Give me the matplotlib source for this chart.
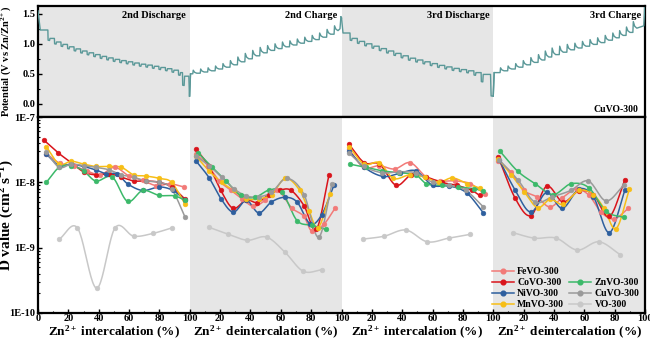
import numpy as np
import matplotlib
matplotlib.use('Agg')
import matplotlib.pyplot as plt
from matplotlib.lines import Line2D
from matplotlib.ticker import FixedLocator, FuncFormatter, MultipleLocator, LogLocator, NullFormatter

plt.rcParams['font.family'] = ['Liberation Serif', 'DejaVu Serif']
plt.rcParams['font.weight'] = 'bold'
plt.rcParams['mathtext.fontset'] = 'custom'
plt.rcParams['mathtext.rm'] = 'Liberation Serif:bold'
plt.rcParams['mathtext.it'] = 'Liberation Serif:bold'
plt.rcParams['mathtext.bf'] = 'Liberation Serif:bold'

# ---------------- GITT potential curve (CuVO-300) ----------------
# discharge segments: pulse start x (local %), pulse minimum V, relaxed V
dis2_start = [(0.0, 1.55), (1.5, 1.23)]
dis2_x = [6.5, 10.8, 15.1, 19.4, 23.7, 28.0, 32.3, 36.6, 40.9, 45.2, 49.5,
          53.8, 58.1, 62.4, 66.7, 71.0, 75.3, 79.6, 83.9, 88.2, 92.5, 95.2]
dis2_pulse = [1.06, 1.00, 0.96, 0.92, 0.885, 0.85, 0.82, 0.79, 0.76, 0.735, 0.71,
              0.69, 0.67, 0.65, 0.63, 0.615, 0.595, 0.575, 0.555, 0.53, 0.48, 0.31]
dis2_rest = [1.09, 1.03, 0.99, 0.95, 0.915, 0.88, 0.85, 0.82, 0.79, 0.765, 0.74,
             0.72, 0.70, 0.68, 0.66, 0.645, 0.625, 0.605, 0.585, 0.56, 0.52, 0.46]
dis2_end = [(99.4, 0.46), (99.8, 0.13)]

chg2_start = [(0.0, 0.13), (0.5, 0.50)]
chg2_x = [2.0, 6.9, 11.8, 16.7, 21.6, 26.5, 31.4, 36.3, 41.2, 46.1,
          51.0, 55.9, 60.8, 65.7, 70.6, 75.5, 80.4, 85.3, 90.2, 95.1]
chg2_peak = [0.56, 0.58, 0.60, 0.63, 0.67, 0.72, 0.78, 0.84, 0.89, 0.94,
             0.97, 1.00, 1.03, 1.05, 1.08, 1.11, 1.14, 1.18, 1.24, 1.30]
chg2_rest = [0.51, 0.53, 0.55, 0.58, 0.61, 0.65, 0.70, 0.75, 0.80, 0.85,
             0.89, 0.92, 0.95, 0.98, 1.01, 1.04, 1.07, 1.11, 1.16, 1.22]
chg2_end = [(99.0, 1.25), (99.6, 1.45)]

dis3_start = [(0.0, 1.43), (1.0, 1.18)]
dis3_x = [5.6, 10.4, 15.2, 20.0, 24.8, 29.6, 34.4, 39.2, 44.0, 48.8,
          53.6, 58.4, 63.2, 68.0, 72.8, 77.6, 82.4, 87.2, 92.0]
dis3_pulse = [1.06, 1.01, 0.97, 0.93, 0.89, 0.85, 0.81, 0.77, 0.73, 0.70,
              0.67, 0.64, 0.61, 0.585, 0.56, 0.54, 0.52, 0.48, 0.37]
dis3_rest = [1.09, 1.04, 1.00, 0.96, 0.92, 0.88, 0.84, 0.80, 0.76, 0.73,
             0.70, 0.67, 0.64, 0.615, 0.59, 0.57, 0.55, 0.52, 0.49]
dis3_end = [(98.2, 0.49), (98.6, 0.13), (100.0, 0.13)]

chg3_start = [(0.0, 0.13), (0.6, 0.52)]
chg3_x = [4.5, 9.5, 14.5, 19.5, 24.5, 29.5, 34.0, 38.5, 43.5, 48.5,
          53.5, 58.5, 63.5, 68.5, 73.5, 78.5, 83.0, 87.5, 92.0]
chg3_peak = [0.60, 0.63, 0.67, 0.72, 0.77, 0.82, 0.88, 0.93, 0.96, 0.99,
             1.01, 1.04, 1.07, 1.10, 1.14, 1.18, 1.22, 1.28, 1.37]
chg3_rest = [0.55, 0.58, 0.61, 0.65, 0.69, 0.73, 0.78, 0.82, 0.86, 0.90,
             0.93, 0.96, 0.99, 1.02, 1.06, 1.10, 1.14, 1.19, 1.26]
chg3_end = [(99.2, 1.30), (99.8, 1.60)]

# ---------------- Diffusion coefficients (local x %, D cm2/s) ----------------
FeVO_x = [[5.5, 14.5, 23.5, 32, 41, 50.5, 60, 69, 78, 87, 96],
          [4.3, 12, 19.5, 27, 34.5, 42, 49.7, 57.5, 67.5, 75.3, 80.3, 88.5, 95.7],
          [5, 14.5, 25, 35, 45.3, 56, 65, 75, 85, 94.5],
          [3.3, 11.4, 20, 28.6, 37.3, 45.5, 55, 63.2, 71, 79.6, 89]]
FeVO_d = [[2.75e-8, 1.95e-8, 1.78e-8, 1.5e-8, 1.3e-8, 1.7e-8, 1.25e-8, 1.07e-8, 8.9e-9, 9.5e-9, 8.5e-9],
          [2.7e-8, 1.8e-8, 1.05e-8, 7.6e-9, 5.6e-9, 4.3e-9, 5.3e-9, 7.6e-9, 4.0e-9, 3.0e-9, 1.8e-9, 2.3e-9, 4.0e-9],
          [3.2e-8, 1.7e-8, 1.8e-8, 1.6e-8, 2.0e-8, 1.2e-8, 1.05e-8, 1.05e-8, 9.5e-9, 6.6e-9],
          [2.1e-8, 1.45e-8, 7.6e-9, 6.0e-9, 4.2e-9, 5.8e-9, 7.9e-9, 6.3e-9, 3.5e-9, 2.75e-9, 4.0e-9]]

CoVO_x = [[4, 13.5, 22, 30, 38, 47, 55, 63, 71, 80, 88, 97],
          [4.3, 12.7, 20.4, 28.5, 37.3, 44.5, 52.2, 59.3, 66.5, 75.3, 83.4, 91.8],
          [5, 15, 25, 36, 46, 56, 66, 76, 86, 91],
          [3.3, 14.3, 24.7, 35.2, 46, 56.5, 66, 76.5, 86.8]]
CoVO_d = [[4.4e-8, 2.8e-8, 2.0e-8, 1.45e-8, 1.3e-8, 1.35e-8, 1.2e-8, 1.05e-8, 1.05e-8, 1.0e-8, 8.5e-9, 5.5e-9],
          [3.2e-8, 1.76e-8, 7.6e-9, 4.0e-9, 5.4e-9, 4.9e-9, 6.5e-9, 7.6e-9, 7.6e-9, 4.4e-9, 1.9e-9, 1.3e-8],
          [3.8e-8, 2.0e-8, 1.9e-8, 9e-9, 1.3e-8, 1.2e-8, 1.0e-8, 9e-9, 7.5e-9, 6.3e-9],
          [2.45e-8, 5.8e-9, 3.1e-9, 8.7e-9, 5.0e-9, 7.4e-9, 6.5e-9, 3.0e-9, 1.1e-8]]

NiVO_x = [[5.5, 14, 22, 30, 38, 45, 52, 59, 69, 80, 89, 97],
          [4.3, 12.7, 20.6, 28.7, 37.3, 45.5, 53.8, 62.6, 70.7, 79.5, 87, 95],
          [5, 15, 27.5, 38.6, 49, 60, 71, 82.5, 93.5],
          [4, 14.3, 24.7, 35.2, 45.5, 56.5, 66, 76.5, 86.8]]
NiVO_d = [[2.7e-8, 1.8e-8, 1.9e-8, 1.75e-8, 1.55e-8, 1.35e-8, 1.35e-8, 9.5e-9, 7.5e-9, 8.5e-9, 7.5e-9, 5.3e-9],
          [2.1e-8, 1.18e-8, 5.6e-9, 3.5e-9, 5.3e-9, 3.4e-9, 5.0e-9, 5.9e-9, 5.0e-9, 2.3e-9, 3.2e-9, 9e-9],
          [3.0e-8, 1.7e-8, 1.23e-8, 1.38e-8, 1.5e-8, 9e-9, 8.8e-9, 6.9e-9, 3.4e-9],
          [2.2e-8, 7.7e-9, 3.5e-9, 7.0e-9, 4.0e-9, 7.9e-9, 6.0e-9, 1.7e-9, 7.6e-9]]

MnVO_x = [[5.5, 14, 22, 30, 38, 47, 55, 63, 71, 80, 88, 97],
          [4.3, 12.7, 21, 29, 37.3, 45.5, 54, 63, 72.4, 78.5, 84.5, 92.5],
          [5, 15, 25, 34, 45, 55, 64, 73, 83, 91.5],
          [3.3, 12, 20.5, 29.3, 37.5, 46, 56.5, 66, 73, 80.9, 89.7]]
MnVO_d = [[3.5e-8, 1.9e-8, 2.1e-8, 1.9e-8, 1.75e-8, 1.75e-8, 1.7e-8, 1.3e-8, 1.25e-8, 1.15e-8, 1.0e-8, 4.6e-9],
          [2.5e-8, 1.5e-8, 1.0e-8, 7.5e-9, 5.6e-9, 5.6e-9, 6.5e-9, 1.15e-8, 7.6e-9, 3.7e-9, 2.0e-9, 6.7e-9],
          [3.5e-8, 1.9e-8, 2.0e-8, 1.15e-8, 1.3e-8, 1.2e-8, 1.0e-8, 1.17e-8, 9.5e-9, 8.1e-9],
          [2.3e-8, 1.3e-8, 7.1e-9, 4.1e-9, 5.5e-9, 4.6e-9, 7.5e-9, 6.5e-9, 4.0e-9, 1.95e-9, 7.8e-9]]

ZnVO_x = [[5.5, 14, 22, 30, 38, 49, 59, 69, 80, 90, 97],
          [5.6, 14.8, 24, 33.5, 43, 52.2, 60.6, 70.7, 80.6, 89.8],
          [5.5, 16, 27, 38, 49, 56, 66, 77, 87, 93.5],
          [4.4, 16.1, 27.7, 39.5, 51.2, 62.9, 74.3, 86]]
ZnVO_d = [[1.0e-8, 1.7e-8, 1.8e-8, 1.5e-8, 1.05e-8, 1.2e-8, 5.1e-9, 7.5e-9, 6.3e-9, 6.2e-9, 5.3e-9],
          [2.8e-8, 1.7e-8, 1.05e-8, 6.3e-9, 5.9e-9, 7.6e-9, 7.2e-9, 2.6e-9, 2.2e-9, 1.9e-9],
          [1.9e-8, 1.7e-8, 1.5e-8, 1.4e-8, 1.3e-8, 9.5e-9, 9e-9, 8.5e-9, 8e-9, 7.4e-9],
          [3.0e-8, 1.48e-8, 9.5e-9, 6.5e-9, 9.5e-9, 8.3e-9, 3.6e-9, 2.9e-9]]

CuVO_x = [[5.5, 14, 22, 30, 38, 47, 55, 63, 71, 80, 88, 97],
          [4.3, 12.7, 21, 29, 37.3, 45.5, 53.8, 64, 75.3, 85, 93.7],
          [5, 15, 27, 38, 49, 60, 71, 82, 93.5],
          [4, 16.5, 27.4, 39, 51, 62.6, 74.3, 86]]
CuVO_d = [[2.9e-8, 1.7e-8, 1.9e-8, 1.8e-8, 1.7e-8, 1.55e-8, 1.3e-8, 1.2e-8, 1.05e-8, 1.0e-8, 8e-9, 2.9e-9],
          [2.5e-8, 1.8e-8, 1.2e-8, 8e-9, 6.2e-9, 6.0e-9, 7.0e-9, 1.15e-8, 6.5e-9, 1.45e-9, 9.5e-9],
          [2.8e-8, 1.75e-8, 1.4e-8, 1.45e-8, 1.4e-8, 1.0e-8, 9e-9, 7.5e-9, 4.2e-9],
          [2.2e-8, 1.07e-8, 5e-9, 6e-9, 7.5e-9, 1.05e-8, 5.2e-9, 9e-9]]

VO_x = [[14, 26, 38.7, 50.7, 63, 75.6, 88],
        [12.7, 25.4, 38, 50.7, 62.8, 74.8, 87.4],
        [14, 28.2, 42.5, 56.5, 70.8, 84.9],
        [12.8, 27.1, 41.4, 55.4, 69.7, 83.8]]
VO_d = [[1.35e-9, 2.0e-9, 2.4e-10, 2.0e-9, 1.5e-9, 1.65e-9, 2.0e-9],
        [2.05e-9, 1.6e-9, 1.3e-9, 1.45e-9, 8.5e-10, 4.35e-10, 4.6e-10],
        [1.35e-9, 1.5e-9, 1.86e-9, 1.23e-9, 1.4e-9, 1.6e-9],
        [1.7e-9, 1.4e-9, 1.4e-9, 9.2e-10, 1.23e-9, 7.8e-10]]

series_names = ['FeVO-300', 'CoVO-300', 'NiVO-300', 'MnVO-300', 'ZnVO-300', 'CuVO-300', 'VO-300']
series_x = [FeVO_x, CoVO_x, NiVO_x, MnVO_x, ZnVO_x, CuVO_x, VO_x]
series_d = [FeVO_d, CoVO_d, NiVO_d, MnVO_d, ZnVO_d, CuVO_d, VO_d]
series_colors = ['#f27a78', '#d9141b', '#2e5f9e', '#f7be16', '#3cb96a', '#9a9a9a', '#c8c8c8']

seg_offsets = [0, 100, 200, 300]
seg_titles = ['2nd Discharge', '2nd Charge', '3rd Discharge', '3rd Charge']
seg_xlabels = [r'Zn$^{2+}$ intercalation (%)', r'Zn$^{2+}$ deintercalation (%)',
               r'Zn$^{2+}$ intercalation (%)', r'Zn$^{2+}$ deintercalation (%)']


def discharge_path(start, xs, pulse, rest, end, off):
    pts = list(start)
    prev = start[-1][1]
    for x, p, r in zip(xs, pulse, rest):
        pts += [(x, prev), (x + 0.15, p), (x + 1.1, p - 0.005), (x + 1.4, r)]
        prev = r
    pts += end
    a = np.array(pts)
    return a[:, 0] + off, a[:, 1]


def charge_path(start, xs, peak, rest, end, off):
    pts = list(start)
    prev = start[-1][1]
    for x, p, r in zip(xs, peak, rest):
        pts += [(x, prev), (x + 0.3, p), (x + 1.2, r + 0.3 * (p - r)), (x + 2.6, r)]
        prev = r
    pts += end
    a = np.array(pts)
    return a[:, 0] + off, a[:, 1]


def smooth_log(x, y, n=24):
    x = np.asarray(x, float)
    ly = np.log10(np.asarray(y, float))
    k = len(x)
    m = np.empty(k)
    m[1:-1] = (ly[2:] - ly[:-2]) / (x[2:] - x[:-2])
    m[0] = (ly[1] - ly[0]) / (x[1] - x[0])
    m[-1] = (ly[-1] - ly[-2]) / (x[-1] - x[-2])
    xs, ys = [], []
    t = np.linspace(0, 1, n)
    h00 = 2 * t**3 - 3 * t**2 + 1
    h10 = t**3 - 2 * t**2 + t
    h01 = -2 * t**3 + 3 * t**2
    h11 = t**3 - t**2
    for i in range(k - 1):
        h = x[i + 1] - x[i]
        xs.append(x[i] + t * h)
        ys.append(h00 * ly[i] + h10 * h * m[i] + h01 * ly[i + 1] + h11 * h * m[i + 1])
    return np.concatenate(xs), 10 ** np.concatenate(ys)


fig = plt.figure(figsize=(6.5, 3.4), dpi=100)
L, R = 38 / 650, 645 / 650
ax1 = fig.add_axes([L, 1 - 117 / 340, R - L, (117 - 6) / 340])
ax2 = fig.add_axes([L, 1 - 313 / 340, R - L, (313 - 117) / 340])

gray = '#e6e6e6'
for s in (0, 200):
    ax1.axvspan(s, s + 100, color=gray, lw=0, zorder=0)
for s in (100, 300):
    ax2.axvspan(s, s + 100, color=gray, lw=0, zorder=0)

curve_color = '#5a9898'
for path in (discharge_path(dis2_start, dis2_x, dis2_pulse, dis2_rest, dis2_end, 0),
             charge_path(chg2_start, chg2_x, chg2_peak, chg2_rest, chg2_end, 100),
             discharge_path(dis3_start, dis3_x, dis3_pulse, dis3_rest, dis3_end, 200),
             charge_path(chg3_start, chg3_x, chg3_peak, chg3_rest, chg3_end, 300)):
    ax1.plot(path[0], path[1], color=curve_color, lw=1.0, zorder=3)
# connect segments
ax1.plot([99.8, 100.5], [0.13, 0.50], color=curve_color, lw=1.0, zorder=3)
ax1.plot([199.6, 200.0], [1.45, 1.43], color=curve_color, lw=1.0, zorder=3)
ax1.plot([300.0, 300.6], [0.13, 0.52], color=curve_color, lw=1.0, zorder=3)

ax1.set_xlim(0, 400)
ax1.set_ylim(-0.22, 1.63)
ax1.set_yticks([0.0, 0.5, 1.0, 1.5])
ax1.yaxis.set_minor_locator(MultipleLocator(0.25))
ax1.tick_params(axis='x', which='both', bottom=False, labelbottom=False)
ax1.tick_params(axis='y', which='major', labelsize=7.5, direction='in', length=3, width=1, pad=2)
ax1.tick_params(axis='y', which='minor', direction='in', length=1.5, width=0.8)
ax1.set_ylabel(r'Potential (V vs Zn/Zn$^{2+}$)', fontsize=7.5, fontweight='bold')
ax1.yaxis.set_label_coords(-0.042, 0.5)
for i, t in enumerate(seg_titles):
    ax1.text(seg_offsets[i] + 97.5, 1.48, t, ha='right', va='center', fontsize=7.5, fontweight='bold')
ax1.text(395.5, -0.10, 'CuVO-300', ha='right', va='center', fontsize=7, fontweight='bold')

for name, sx, sd, c in zip(series_names, series_x, series_d, series_colors):
    for k in range(4):
        x = np.asarray(sx[k]) + seg_offsets[k]
        xs, ys = smooth_log(x, sd[k])
        ax2.plot(xs, ys, color=c, lw=1.1, zorder=3)
        ax2.plot(x, sd[k], ls='none', marker='o', ms=3.4, mfc=c, mec=c, mew=0.4, zorder=4)

ax2.set_yscale('log')
ax2.set_xlim(0, 400)
ax2.set_ylim(1e-10, 1e-7)
ax2.yaxis.set_major_locator(FixedLocator([1e-10, 1e-9, 1e-8, 1e-7]))
ax2.yaxis.set_major_formatter(FuncFormatter(lambda v, p: '1E%d' % int(round(np.log10(v)))))
ax2.yaxis.set_minor_locator(LogLocator(base=10, subs=np.arange(2, 10)))
ax2.yaxis.set_minor_formatter(NullFormatter())
ax2.xaxis.set_major_locator(MultipleLocator(20))
ax2.xaxis.set_minor_locator(MultipleLocator(10))


def xfmt(v, p):
    v = int(round(v))
    if v == 0:
        return '0'
    r = v % 100
    return '100' if r == 0 else str(r)


ax2.xaxis.set_major_formatter(FuncFormatter(xfmt))
ax2.tick_params(axis='y', which='major', labelsize=7.5, direction='in', length=3, width=1, pad=2)
ax2.tick_params(axis='x', which='major', labelsize=7.5, direction='in', length=3, width=1, pad=1)
ax2.tick_params(axis='both', which='minor', direction='in', length=1.5, width=0.8)
ax2.set_ylabel(r'D value (cm$^{2}$ s$^{-1}$)', fontsize=11, fontweight='bold')
ax2.yaxis.set_label_coords(-0.037, 0.5)
for i, t in enumerate(seg_xlabels):
    ax2.text(seg_offsets[i] + 50, -0.098, t, transform=ax2.get_xaxis_transform(),
             ha='center', va='center', fontsize=9.5, fontweight='bold')

for ax in (ax1, ax2):
    for sp in ax.spines.values():
        sp.set_linewidth(1.6)

handles = []
labels = []
for name, c in zip(series_names, series_colors):
    handles.append(Line2D([], [], color=c, lw=1.1, marker='o', ms=3.4, mfc=c, mec=c))
    labels.append(name)
blank = Line2D([], [], color='none')
order_h = handles[:4] + [blank] + handles[4:]
order_l = labels[:4] + [''] + labels[4:]
ax2.legend(order_h, order_l, ncol=2, loc='lower right', bbox_to_anchor=(0.997, 0.0),
           frameon=False, prop={'family': 'Liberation Serif', 'weight': 'bold', 'size': 7},
           handlelength=2.3, handletextpad=0.3, columnspacing=0.5, labelspacing=0.2,
           borderaxespad=0.2, borderpad=0.2)

fig.savefig('out.png', dpi=100)
